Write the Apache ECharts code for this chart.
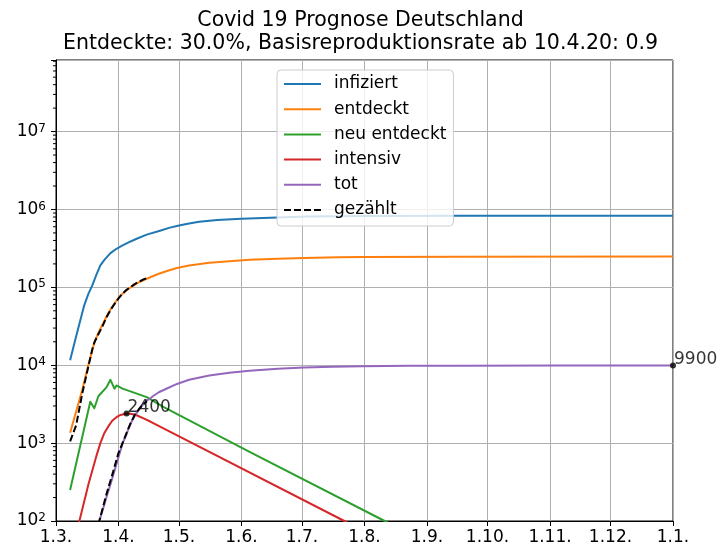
<!DOCTYPE html>
<html><head><meta charset="utf-8">
<script src="https://cdn.jsdelivr.net/npm/echarts@6/dist/echarts.min.js"></script>
<style>html,body{margin:0;padding:0;background:#fff}#c{width:721px;height:553px}</style>
</head><body><div id="c"></div>
<script>
const FONT = 'DejaVu Sans';
const titleLines = ['Covid 19 Prognose Deutschland', 'Entdeckte: 30.0%, Basisreproduktionsrate ab 10.4.20: 0.9'];
const seriesNames = ['infiziert', 'entdeckt', 'neu entdeckt', 'intensiv', 'tot', 'gezählt'];
const seriesColors = ['#1f77b4', '#ff7f0e', '#2ca02c', '#d62728', '#9467bd', '#000000'];
const yMin = 100, yMax = 8.3e7;

const infiziertDates = ['2020-03-08','2020-03-11','2020-03-15','2020-03-17','2020-03-19','2020-03-21','2020-03-23','2020-03-25','2020-03-28','2020-03-31','2020-04-03','2020-04-06','2020-04-10','2020-04-15','2020-04-22','2020-04-26','2020-05-01','2020-05-06','2020-05-11','2020-05-20','2020-06-01','2020-06-19','2020-07-04','2020-08-01','2020-09-17','2021-01-01'];
const infiziertValues = [11600, 23500, 58800, 82000, 106000, 145000, 191000, 225000, 275000, 313000, 345000, 378000, 421000, 475000, 538000, 580000, 624000, 662000, 694000, 731000, 762000, 790000, 813000, 826000, 829000, 830000];

const entdecktDates = ['2020-03-08','2020-03-11','2020-03-14','2020-03-17','2020-03-19','2020-03-20','2020-03-22','2020-03-24','2020-03-26','2020-03-28','2020-03-30','2020-04-01','2020-04-03','2020-04-05','2020-04-08','2020-04-11','2020-04-15','2020-04-20','2020-04-25','2020-04-30','2020-05-06','2020-05-16','2020-05-26','2020-06-05','2020-06-19','2020-07-02','2020-07-19','2020-07-31','2020-09-17','2021-01-01'];
const entdecktValues = [1360, 2550, 4800, 10000, 15500, 19500, 26000, 33000, 42000, 52000, 62000, 73000, 83000, 92000, 104000, 116000, 129000, 146000, 162000, 177000, 191000, 207000, 217000, 226000, 233000, 238000, 243000, 245000, 248000, 249000];

const neuDates = ['2020-03-08','2020-03-18','2020-03-20','2020-03-22','2020-03-26','2020-03-28','2020-03-30','2020-03-31','2020-04-03','2020-04-15','2020-04-23','2020-06-05','2020-08-11','2020-08-23'];
const neuValues = [250, 3400, 2800, 4000, 5200, 6500, 5000, 5500, 5000, 3900, 2950, 770, 100, 68];

const intensivDates = ['2020-03-08','2020-03-13','2020-03-17','2020-03-21','2020-03-23','2020-03-25','2020-03-27','2020-03-29','2020-03-31','2020-04-02','2020-04-05','2020-04-07','2020-04-10','2020-04-14','2020-04-17','2020-04-25','2020-07-22','2020-08-03'];
const intensivValues = [35, 110, 290, 680, 1000, 1350, 1650, 1950, 2150, 2300, 2400, 2380, 2280, 2050, 1880, 1470, 100, 69];

const totDates = ['2020-03-18','2020-03-21','2020-03-23','2020-03-26','2020-03-29','2020-03-31','2020-04-03','2020-04-05','2020-04-06','2020-04-08','2020-04-10','2020-04-12','2020-04-15','2020-04-17','2020-04-18','2020-04-21','2020-04-25','2020-04-30','2020-05-06','2020-05-16','2020-05-26','2020-06-05','2020-06-19','2020-07-02','2020-07-16','2020-07-31','2020-08-23','2020-09-17','2020-11-06','2021-01-01'];
const totValues = [41, 74, 110, 200, 360, 540, 990, 1300, 1550, 2000, 2450, 2900, 3500, 3800, 4000, 4500, 5030, 5750, 6500, 7400, 8000, 8500, 9000, 9340, 9560, 9710, 9820, 9870, 9895, 9900];

const gezaehltFaelleDates = ['2020-03-08','2020-03-11','2020-03-14','2020-03-17','2020-03-19','2020-03-20','2020-03-22','2020-03-24','2020-03-26','2020-03-28','2020-03-30','2020-04-01','2020-04-03','2020-04-05','2020-04-07','2020-04-09','2020-04-11','2020-04-13','2020-04-15'];
const gezaehltFaelleValues = [1050, 1700, 4300, 9500, 16000, 19500, 25000, 31500, 41000, 51000, 61000, 72000, 83000, 93000, 101000, 110000, 118000, 125000, 131000];

const gezaehltToteDates = ['2020-03-22','2020-03-26','2020-03-29','2020-04-01','2020-04-03','2020-04-05','2020-04-07','2020-04-09','2020-04-11','2020-04-13','2020-04-15'];
const gezaehltToteValues = [90, 220, 400, 750, 1000, 1350, 1800, 2300, 2700, 3100, 3450];

const annotDates = ['2020-04-05', '2021-01-01'];
const annotValues = [2400, 9900];

// category axis: every day from 1 March 2020 to 1 January 2021
const days = [];
for (let t = Date.UTC(2020, 2, 1); t <= Date.UTC(2021, 0, 1); t += 86400000) {
  days.push(new Date(t).toISOString().slice(0, 10));
}
const isMonthStart = (i, v) => v.slice(8, 10) === '01';
const zip = (a, b) => a.map((x, i) => [x, b[i]]);

// log minor tick values
const minorTickValues = [];
for (let e = 2; e <= 7; e++) for (let k = 2; k <= 9; k++) { const v = k * Math.pow(10, e); if (v <= yMax) minorTickValues.push(v); }

function lineSeries(name, color, data, dashed) {
  return {
    name, type: 'line', data, symbol: 'none', showSymbol: false, silent: true,
    lineStyle: { color, width: 2, type: dashed ? [7, 3] : 'solid', join: 'round' },
    itemStyle: { color },
    emphasis: { disabled: true }, clip: true, animation: false
  };
}

const chart = echarts.init(document.getElementById('c'), null, { renderer: 'canvas' });
chart.setOption({
  animation: false,
  backgroundColor: '#ffffff',
  title: {
    text: titleLines.join('\n'), left: 'center', top: 9, padding: [0, 0, 0, 8],
    textStyle: { fontSize: 20.5, fontWeight: 'normal', fontFamily: FONT, color: '#000', lineHeight: 23 }
  },
  legend: {
    data: seriesNames, orient: 'vertical', left: 277, top: 70,
    itemWidth: 37, itemHeight: 20, itemGap: 5.2,
    padding: [4, 7, 6, 6],
    itemStyle: { opacity: 0 },
    backgroundColor: 'rgba(255,255,255,0.8)', borderColor: '#cccccc', borderWidth: 1, borderRadius: 4,
    textStyle: { fontSize: 17, fontFamily: FONT, color: '#000', padding: [0, 0, 0, 8], lineHeight: 20 },
    selectedMode: false
  },
  grid: { left: 56, right: 48, top: 60, bottom: 32, show: true, borderColor: '#000', borderWidth: 1, backgroundColor: 'transparent', outerBoundsMode: 'none', containLabel: false },
  xAxis: {
    type: 'category', data: days, boundaryGap: false,
    axisLine: { lineStyle: { color: '#000', width: 1 } },
    axisTick: { show: true, interval: isMonthStart, length: 5, lineStyle: { color: '#000', width: 1 } },
    axisLabel: { interval: isMonthStart, formatter: v => { const p = v.split('-'); return (+p[2]) + '.' + (+p[1]) + '.'; }, fontSize: 17, fontFamily: FONT, color: '#000', margin: 8 },
    splitLine: { show: true, interval: isMonthStart, lineStyle: { color: '#b0b0b0', width: 1 } }
  },
  yAxis: {
    type: 'log', logBase: 10, min: yMin, max: yMax, splitNumber: 6,
    axisLine: { show: true, lineStyle: { color: '#000', width: 1 } },
    axisTick: { show: true, length: 5, lineStyle: { color: '#000', width: 1 } },
    axisLabel: {
      margin: 10,
      formatter: v => { const e = Math.round(Math.log10(v)); return Math.abs(v / Math.pow(10, e) - 1) < 1e-6 ? '{b|10}{e|' + e + '}' : ''; },
      rich: {
        b: { fontSize: 17, fontFamily: FONT, color: '#000', lineHeight: 18 },
        e: { fontSize: 12, fontFamily: FONT, color: '#000', verticalAlign: 'top', lineHeight: 10 }
      }
    },
    splitLine: { show: true, lineStyle: { color: '#b0b0b0', width: 1 } }
  },
  series: [
    lineSeries('infiziert', seriesColors[0], zip(infiziertDates, infiziertValues)),
    lineSeries('entdeckt', seriesColors[1], zip(entdecktDates, entdecktValues)),
    lineSeries('neu entdeckt', seriesColors[2], zip(neuDates, neuValues)),
    lineSeries('intensiv', seriesColors[3], zip(intensivDates, intensivValues)),
    lineSeries('tot', seriesColors[4], zip(totDates, totValues)),
    lineSeries('gezählt', seriesColors[5], zip(gezaehltFaelleDates, gezaehltFaelleValues), true),
    lineSeries('gezählt', seriesColors[5], zip(gezaehltToteDates, gezaehltToteValues), true),
    {
      name: 'annot', type: 'scatter', data: zip(annotDates, annotValues), symbolSize: 6, silent: true,
      itemStyle: { color: '#000' }, z: 10, clip: false,
      label: { show: true, formatter: p => String(p.value[1]), position: [3, 3], align: 'left', verticalAlign: 'bottom', offset: [1, 3], fontSize: 17, fontFamily: FONT, color: '#000' }
    },
    {
      name: 'minorTicks', type: 'custom', silent: true, clip: false, z: 5,
      data: minorTickValues.map(v => [0, v]),
      renderItem: (params, api) => {
        const p = api.coord([0, api.value(1)]);
        return { type: 'line', shape: { x1: p[0] - 3, y1: p[1], x2: p[0], y2: p[1] }, style: { stroke: '#000', lineWidth: 1 } };
      }
    }
  ]
});
</script></body></html>
